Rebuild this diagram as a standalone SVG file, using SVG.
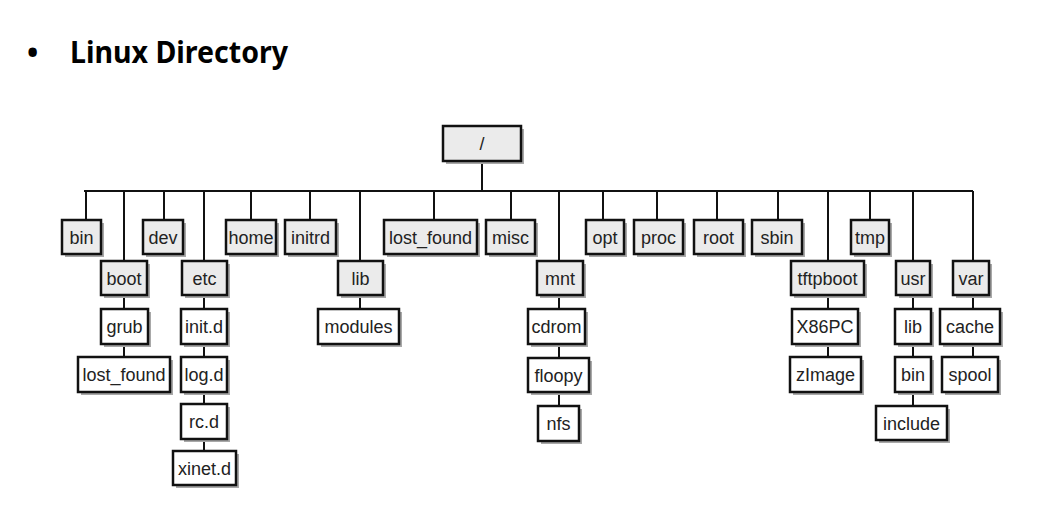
<svg xmlns="http://www.w3.org/2000/svg" width="1050" height="531" viewBox="0 0 1050 531">
<style>
.t{font-family:"Liberation Sans",Arial,sans-serif;font-size:18px;fill:#222;text-anchor:middle}
.b{stroke:#111;stroke-width:2.5}
.g{fill:#ebebeb}
.w{fill:#fff}
.s{fill:#a8a8a8}
.c{stroke:#111;stroke-width:2;fill:none}
</style>
<rect width="1050" height="531" fill="#fff"/>
<text x="27" y="63" font-family="'Noto Sans',sans-serif" font-size="30" font-weight="bold" fill="#000">•</text>
<text x="70" y="63" font-family="'Noto Sans',sans-serif" font-size="30" font-weight="bold" fill="#000" textLength="218" lengthAdjust="spacingAndGlyphs">Linux Directory</text>
<g id="connectors" class="c">
<path d="M482 161V191M84 191H973"/>
<path d="M86 191V220M124 191V261M164 191V220M204 191V261M251 191V220M310 191V220M360 191V261M434 191V220M511 191V220M559 191V261M603 191V220M657 191V220M717 191V220M778 191V220M828 191V261M870 191V220M913 191V261M973 191V261"/>
<path d="M124 295V309M124 344V357"/>
<path d="M204 295V309M204 344V357M204 392V404M204 439V451"/>
<path d="M360 295V309"/>
<path d="M559 295V309M559 344V358M559 392V406"/>
<path d="M828 295V309M828 344V357"/>
<path d="M913 295V309M913 344V357M913 392V406"/>
<path d="M973 295V309M973 344V357"/>
</g>
<g id="n_root"><rect class="s" x="446" y="129" width="78" height="35"/><rect class="b g" x="443" y="126" width="78" height="35"/><text class="t" x="482" y="150">/</text></g>
<g id="n_bin"><rect class="s" x="65" y="223" width="39" height="34"/><rect class="b g" x="62" y="220" width="39" height="34"/><text class="t" x="81.5" y="243.5">bin</text></g>
<g id="n_dev"><rect class="s" x="146" y="223" width="40" height="34"/><rect class="b g" x="143" y="220" width="40" height="34"/><text class="t" x="163" y="243.5">dev</text></g>
<g id="n_home"><rect class="s" x="229" y="223" width="50" height="34"/><rect class="b g" x="226" y="220" width="50" height="34"/><text class="t" x="251" y="243.5">home</text></g>
<g id="n_initrd"><rect class="s" x="288" y="223" width="51" height="34"/><rect class="b g" x="285" y="220" width="51" height="34"/><text class="t" x="310.5" y="243.5">initrd</text></g>
<g id="n_lost_found"><rect class="s" x="387" y="223" width="93" height="34"/><rect class="b g" x="384" y="220" width="93" height="34"/><text class="t" x="430.5" y="243.5">lost_found</text></g>
<g id="n_misc"><rect class="s" x="489" y="223" width="49" height="34"/><rect class="b g" x="486" y="220" width="49" height="34"/><text class="t" x="510.5" y="243.5">misc</text></g>
<g id="n_opt"><rect class="s" x="589" y="223" width="38" height="34"/><rect class="b g" x="586" y="220" width="38" height="34"/><text class="t" x="605" y="243.5">opt</text></g>
<g id="n_proc"><rect class="s" x="637" y="223" width="49" height="34"/><rect class="b g" x="634" y="220" width="49" height="34"/><text class="t" x="658.5" y="243.5">proc</text></g>
<g id="n_rootdir"><rect class="s" x="697" y="223" width="49" height="34"/><rect class="b g" x="694" y="220" width="49" height="34"/><text class="t" x="718.5" y="243.5">root</text></g>
<g id="n_sbin"><rect class="s" x="755" y="223" width="50" height="34"/><rect class="b g" x="752" y="220" width="50" height="34"/><text class="t" x="777" y="243.5">sbin</text></g>
<g id="n_tmp"><rect class="s" x="854" y="223" width="38" height="34"/><rect class="b g" x="851" y="220" width="38" height="34"/><text class="t" x="870" y="243.5">tmp</text></g>
<g id="n_boot"><rect class="s" x="104" y="264" width="46" height="34"/><rect class="b g" x="101" y="261" width="46" height="34"/><text class="t" x="124" y="284.5">boot</text></g>
<g id="n_etc"><rect class="s" x="185" y="264" width="45" height="34"/><rect class="b g" x="182" y="261" width="45" height="34"/><text class="t" x="204.5" y="284.5">etc</text></g>
<g id="n_lib"><rect class="s" x="341" y="264" width="45" height="34"/><rect class="b g" x="338" y="261" width="45" height="34"/><text class="t" x="360.5" y="284.5">lib</text></g>
<g id="n_mnt"><rect class="s" x="540" y="264" width="46" height="34"/><rect class="b g" x="537" y="261" width="46" height="34"/><text class="t" x="560" y="284.5">mnt</text></g>
<g id="n_tftpboot"><rect class="s" x="794" y="264" width="73" height="34"/><rect class="b g" x="791" y="261" width="73" height="34"/><text class="t" x="827.5" y="284.5">tftpboot</text></g>
<g id="n_usr"><rect class="s" x="899" y="264" width="34" height="34"/><rect class="b g" x="896" y="261" width="34" height="34"/><text class="t" x="913" y="284.5">usr</text></g>
<g id="n_var"><rect class="s" x="956" y="264" width="36" height="34"/><rect class="b g" x="953" y="261" width="36" height="34"/><text class="t" x="971" y="284.5">var</text></g>
<g id="n_grub"><rect class="s" x="104" y="312" width="47" height="35"/><rect class="b w" x="101" y="309" width="47" height="35"/><text class="t" x="124.5" y="333">grub</text></g>
<g id="n_initd"><rect class="s" x="184" y="312" width="46" height="35"/><rect class="b w" x="181" y="309" width="46" height="35"/><text class="t" x="204" y="333">init.d</text></g>
<g id="n_modules"><rect class="s" x="321" y="312" width="81" height="35"/><rect class="b w" x="318" y="309" width="81" height="35"/><text class="t" x="358.5" y="333">modules</text></g>
<g id="n_cdrom"><rect class="s" x="531" y="312" width="57" height="35"/><rect class="b w" x="528" y="309" width="57" height="35"/><text class="t" x="556.5" y="333">cdrom</text></g>
<g id="n_x86pc"><rect class="s" x="795" y="312" width="66" height="35"/><rect class="b w" x="792" y="309" width="66" height="35"/><text class="t" x="825" y="333">X86PC</text></g>
<g id="n_usrlib"><rect class="s" x="898" y="312" width="36" height="35"/><rect class="b w" x="895" y="309" width="36" height="35"/><text class="t" x="913" y="333">lib</text></g>
<g id="n_cache"><rect class="s" x="943" y="312" width="60" height="35"/><rect class="b w" x="940" y="309" width="60" height="35"/><text class="t" x="970" y="333">cache</text></g>
<g id="n_lost_found2"><rect class="s" x="81" y="360" width="92" height="35"/><rect class="b w" x="78" y="357" width="92" height="35"/><text class="t" x="124" y="381">lost_found</text></g>
<g id="n_logd"><rect class="s" x="184" y="360" width="46" height="35"/><rect class="b w" x="181" y="357" width="46" height="35"/><text class="t" x="204" y="381">log.d</text></g>
<g id="n_floopy"><rect class="s" x="531" y="361" width="61" height="34"/><rect class="b w" x="528" y="358" width="61" height="34"/><text class="t" x="558.5" y="381.5">floopy</text></g>
<g id="n_zimage"><rect class="s" x="793" y="360" width="71" height="35"/><rect class="b w" x="790" y="357" width="71" height="35"/><text class="t" x="825.5" y="381">zImage</text></g>
<g id="n_usrbin"><rect class="s" x="898" y="360" width="36" height="35"/><rect class="b w" x="895" y="357" width="36" height="35"/><text class="t" x="913" y="381">bin</text></g>
<g id="n_spool"><rect class="s" x="945" y="360" width="56" height="35"/><rect class="b w" x="942" y="357" width="56" height="35"/><text class="t" x="970" y="381">spool</text></g>
<g id="n_rcd"><rect class="s" x="184" y="407" width="46" height="35"/><rect class="b w" x="181" y="404" width="46" height="35"/><text class="t" x="204" y="428">rc.d</text></g>
<g id="n_nfs"><rect class="s" x="541" y="409" width="41" height="35"/><rect class="b w" x="538" y="406" width="41" height="35"/><text class="t" x="558.5" y="430">nfs</text></g>
<g id="n_include"><rect class="s" x="879" y="409" width="71" height="34"/><rect class="b w" x="876" y="406" width="71" height="34"/><text class="t" x="911.5" y="429.5">include</text></g>
<g id="n_xinetd"><rect class="s" x="176" y="454" width="63" height="34"/><rect class="b w" x="173" y="451" width="63" height="34"/><text class="t" x="204.5" y="474.5">xinet.d</text></g>
</svg>
